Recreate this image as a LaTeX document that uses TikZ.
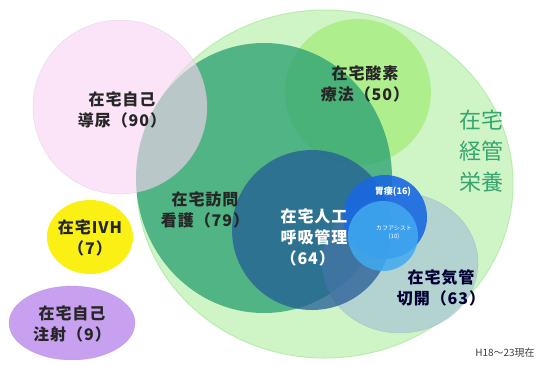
\documentclass[tikz,border=0pt]{standalone}
\usepackage{fontspec}
\newfontfamily\jp{Noto Sans CJK JP}
\newfontfamily\jpl{Noto Sans CJK JP}[LetterSpace=6]
\begin{document}
\begin{tikzpicture}[x=1pt,y=-1pt,
  lbl/.style={font=\jpl\bfseries\fontsize{16}{21}\selectfont, align=center, text=black!85},
  wlbl/.style={lbl, text=white},
]
\definecolor{bigG}{RGB}{207,244,198}
\definecolor{bigE}{RGB}{185,237,175}
\definecolor{oxy}{RGB}{170,238,130}
\definecolor{nurse}{RGB}{45,162,115}
\definecolor{pinkc}{RGB}{250,212,244}
\definecolor{tracheo}{RGB}{168,198,215}
\definecolor{vent}{RGB}{35,92,150}
\definecolor{gastro}{RGB}{25,105,225}
\definecolor{cough}{RGB}{65,170,240}
\definecolor{yel}{RGB}{250,240,20}
\definecolor{purp}{RGB}{200,160,240}
\definecolor{gtext}{RGB}{55,165,110}
\useasboundingbox[fill=white] (0,0) rectangle (548,365);
% shapes
\fill[bigG, draw=bigE, line width=1pt] (325,184) ellipse [x radius=188, y radius=174];
\fill[oxy, fill opacity=0.85] (358,92) circle [radius=73];
\fill[nurse, fill opacity=0.78] (264,178) ellipse [x radius=128, y radius=135];
\fill[pinkc, fill opacity=0.62, draw=pinkc!70!gray, draw opacity=0.5] (120,107) circle [radius=87];
\fill[tracheo, fill opacity=0.7, draw=tracheo!80!black, draw opacity=0.4] (400,263) ellipse [x radius=78, y radius=70];
\fill[vent, fill opacity=0.75] (312,230) circle [radius=80];
\fill[gastro, fill opacity=0.9] (385,217) circle [radius=42];
\fill[cough, fill opacity=0.85] (383,236) circle [radius=35];
\fill[yel] (90,237) ellipse [x radius=43, y radius=37];
\fill[purp, draw=purp!80!black, draw opacity=0.4] (72,323) ellipse [x radius=63, y radius=37];
% labels
\node[lbl] (jd) at (122,110) {在宅自己\\導尿（90）};
\node[lbl] (sk) at (365,84) {在宅酸素\\療法（50）};
\node[font=\jp\fontsize{22}{31}\selectfont, text=gtext, align=center] (ke) at (481,151) {在宅\\経管\\栄養};
\node[lbl] (hk) at (205,210) {在宅訪問\\看護（79）};
\node[wlbl, align=left] (jk) at (314,237) {在宅人工\\呼吸管理\\（64）};
\node[font=\jp\bfseries\fontsize{9}{11}\selectfont, text=white] (ir) at (393,192) {胃瘻(16)};
\node[font=\jp\fontsize{6}{8}\selectfont, text=white, align=center] (ca) at (394,233) {カフアシスト\\(10)};
\node[lbl, text=black!80!blue] (kk) at (441,288) {在宅気管\\切開（63）};
\node[lbl] (ivh) at (90,238) {在宅IVH\\（7）};
\node[lbl] (cs) at (72,324) {在宅自己\\注射（9）};
\node[font=\jp\fontsize{10}{12}\selectfont, text=black!75] (dt) at (505,353) {H18〜23現在};
\end{tikzpicture}
\end{document}
